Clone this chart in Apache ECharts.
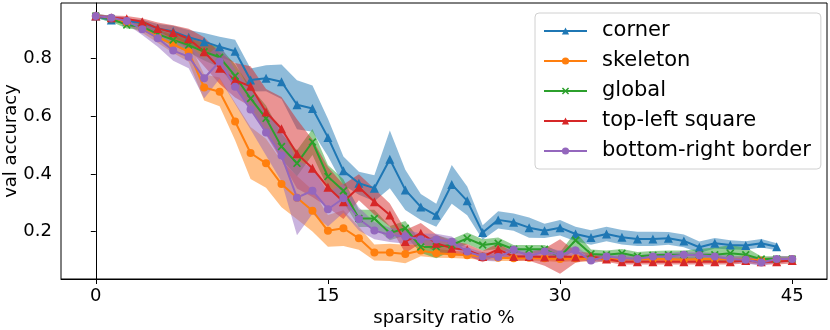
<!DOCTYPE html>
<html>
<head>
<meta charset="utf-8">
<script src="https://cdn.jsdelivr.net/npm/echarts@6/dist/echarts.min.js"></script>
<style>
  html, body { margin: 0; padding: 0; background: #fff; }
  #chart { width: 830px; height: 330px; }
</style>
</head>
<body>
<div id="chart"></div>
<script>
// sparsity ratio (%) at which each run was evaluated
const sparsity = Array.from({ length: 46 }, (_, i) => i)

const seriesNames = ["corner", "skeleton", "global", "top-left square", "bottom-right border"]
const colors = ["#1f77b4", "#ff7f0e", "#2ca02c", "#d62728", "#9467bd"]

// mean val accuracy
const cornerMean = [
  0.948, 0.934, 0.930, 0.925, 0.905, 0.894, 0.874, 0.859, 0.841, 0.826,
  0.726, 0.732, 0.720, 0.640, 0.627, 0.527, 0.411, 0.368, 0.351, 0.451,
  0.345, 0.286, 0.257, 0.364, 0.307, 0.197, 0.241, 0.233, 0.214, 0.203,
  0.214, 0.192, 0.180, 0.192, 0.181, 0.175, 0.175, 0.177, 0.168, 0.146,
  0.160, 0.154, 0.152, 0.160, 0.148
]
const skeletonMean = [
  0.948, 0.940, 0.925, 0.905, 0.875, 0.850, 0.824, 0.700, 0.685, 0.582,
  0.473, 0.437, 0.365, 0.318, 0.273, 0.203, 0.212, 0.177, 0.128, 0.128,
  0.123, 0.135, 0.125, 0.122, 0.118, 0.115, 0.110, 0.108, 0.110, 0.108,
  0.105, 0.108, 0.105, 0.105, 0.105, 0.103, 0.105, 0.105, 0.103, 0.105,
  0.105, 0.103, 0.105, 0.100, 0.103, 0.105
]
const globalMean = [
  0.948, 0.938, 0.917, 0.911, 0.885, 0.865, 0.847, 0.824, 0.805, 0.740,
  0.662, 0.593, 0.495, 0.437, 0.511, 0.391, 0.342, 0.246, 0.246, 0.195,
  0.212, 0.147, 0.148, 0.154, 0.177, 0.154, 0.160, 0.139, 0.139, 0.139,
  0.114, 0.170, 0.123, 0.120, 0.125, 0.115, 0.118, 0.120, 0.120, 0.120,
  0.120, 0.125, 0.120, 0.105, 0.105, 0.105
]
const topLeftMean = [
  0.948, 0.942, 0.938, 0.928, 0.905, 0.891, 0.869, 0.824, 0.767, 0.725,
  0.704, 0.615, 0.557, 0.470, 0.420, 0.354, 0.304, 0.354, 0.304, 0.258,
  0.166, 0.195, 0.160, 0.143, 0.137, 0.114, 0.139, 0.114, 0.114, 0.112,
  0.114, 0.112, 0.114, 0.105, 0.096, 0.096, 0.096, 0.096, 0.096, 0.096,
  0.096, 0.096, 0.100, 0.096, 0.096, 0.100
]
const bottomRightMean = [
  0.948, 0.942, 0.931, 0.902, 0.871, 0.828, 0.807, 0.732, 0.790, 0.703,
  0.624, 0.544, 0.464, 0.318, 0.342, 0.278, 0.316, 0.244, 0.204, 0.189,
  0.183, 0.174, 0.173, 0.165, 0.131, 0.114, 0.112, 0.137, 0.116, 0.131,
  0.120, 0.135, 0.100, 0.114, 0.108, 0.105, 0.114, 0.114, 0.120, 0.118,
  0.114, 0.105, 0.103, 0.093, 0.105, 0.105
]

// std over runs (half-width of the shaded band)
const cornerStd = [
  0.006, 0.008, 0.008, 0.010, 0.015, 0.020, 0.025, 0.030, 0.035, 0.040,
  0.040, 0.045, 0.060, 0.085, 0.080, 0.065, 0.050, 0.040, 0.045, 0.100,
  0.070, 0.045, 0.040, 0.067, 0.050, 0.025, 0.030, 0.030, 0.035, 0.025,
  0.027, 0.025, 0.025, 0.025, 0.025, 0.025, 0.025, 0.022, 0.022, 0.020,
  0.018, 0.016, 0.015, 0.015, 0.012
]
const skeletonStd = [
  0.005, 0.006, 0.010, 0.015, 0.020, 0.030, 0.035, 0.045, 0.050, 0.065,
  0.090, 0.085, 0.080, 0.075, 0.072, 0.055, 0.062, 0.040, 0.028, 0.030,
  0.032, 0.020, 0.015, 0.013, 0.012, 0.012, 0.012, 0.010, 0.010, 0.010,
  0.010, 0.010, 0.010, 0.010, 0.010, 0.010, 0.010, 0.010, 0.010, 0.010,
  0.010, 0.010, 0.010, 0.010, 0.010, 0.008
]
const globalStd = [
  0.008, 0.010, 0.012, 0.012, 0.015, 0.020, 0.025, 0.030, 0.035, 0.040,
  0.040, 0.045, 0.045, 0.045, 0.045, 0.040, 0.040, 0.030, 0.030, 0.025,
  0.025, 0.020, 0.040, 0.020, 0.020, 0.020, 0.020, 0.015, 0.015, 0.015,
  0.015, 0.030, 0.015, 0.015, 0.015, 0.015, 0.015, 0.015, 0.015, 0.020,
  0.025, 0.028, 0.025, 0.010, 0.010, 0.010
]
const topLeftStd = [
  0.006, 0.008, 0.010, 0.012, 0.020, 0.025, 0.035, 0.050, 0.055, 0.060,
  0.070, 0.080, 0.110, 0.120, 0.100, 0.070, 0.060, 0.045, 0.045, 0.040,
  0.040, 0.035, 0.030, 0.025, 0.020, 0.020, 0.020, 0.015, 0.015, 0.030,
  0.060, 0.020, 0.012, 0.010, 0.010, 0.010, 0.010, 0.010, 0.010, 0.010,
  0.010, 0.010, 0.010, 0.010, 0.010, 0.010
]
const bottomRightStd = [
  0.006, 0.008, 0.012, 0.020, 0.030, 0.035, 0.040, 0.070, 0.060, 0.060,
  0.070, 0.080, 0.090, 0.130, 0.080, 0.060, 0.050, 0.040, 0.030, 0.025,
  0.025, 0.020, 0.020, 0.018, 0.015, 0.015, 0.015, 0.015, 0.015, 0.015,
  0.015, 0.015, 0.012, 0.012, 0.012, 0.012, 0.012, 0.012, 0.012, 0.012,
  0.012, 0.012, 0.012, 0.012, 0.012, 0.010
]

const xTicks = [0, 15, 30, 45]
const yTicks = [0.2, 0.4, 0.6, 0.8]

const means = [cornerMean, skeletonMean, globalMean, topLeftMean, bottomRightMean]
const stds = [cornerStd, skeletonStd, globalStd, topLeftStd, bottomRightStd]
const symbols = [
  "triangle",
  "circle",
  "path://M0,1.5L1.5,0L5,3.5L8.5,0L10,1.5L6.5,5L10,8.5L8.5,10L5,6.5L1.5,10L0,8.5L3.5,5Z",
  "triangle",
  "circle",
]
const symbolSizes = [9, 8, 8, 9, 8]

const FONT = "DejaVu Sans"

// fill_between-like band: one polygon drawn through the axis scales
function bandSeries(k) {
  const mean = means[k]
  const std = stds[k]
  const rows = mean.map((m, i) => [sparsity[i], m - std[i], m + std[i]])
  return {
    type: "custom",
    z: 1,
    silent: true,
    clip: true,
    data: rows,
    encode: { x: 0, y: [1, 2] },
    renderItem(params, api) {
      if (params.dataIndex !== 0) return null
      const pts = []
      for (let i = 0; i < rows.length; i++) pts.push(api.coord([rows[i][0], rows[i][2]]))
      for (let i = rows.length - 1; i >= 0; i--) pts.push(api.coord([rows[i][0], rows[i][1]]))
      return {
        type: "polygon",
        shape: { points: pts },
        style: { fill: colors[k], opacity: 0.5 },
      }
    },
  }
}

function lineSeries(k) {
  return {
    name: seriesNames[k],
    type: "line",
    z: 2,
    data: means[k].map((m, i) => [sparsity[i], m]),
    symbol: symbols[k],
    symbolSize: symbolSizes[k],
    showSymbol: true,
    lineStyle: { width: 2, color: colors[k] },
    itemStyle: { color: colors[k] },
  }
}

const series = []
for (let k = 0; k < 5; k++) series.push(bandSeries(k))
for (let k = 0; k < 5; k++) series.push(lineSeries(k))

const chart = echarts.init(document.getElementById("chart"), null, { renderer: "canvas" })
chart.setOption({
  animation: false,
  textStyle: { fontFamily: FONT },
  grid: {
    left: 61, right: 3, top: 3, bottom: 51,
    containLabel: false,
    outerBoundsMode: "none",
    show: true, borderColor: "#000", borderWidth: 1,
  },
  legend: {
    data: seriesNames,
    orient: "vertical",
    left: 535,
    top: 13,
    backgroundColor: "#fff",
    borderColor: "#d0d0d0",
    borderWidth: 1,
    borderRadius: 4,
    padding: [6, 10, 6, 8],
    itemWidth: 43,
    itemHeight: 9,
    itemGap: 6,
    textStyle: { fontSize: 21, fontFamily: FONT, color: "#000", lineHeight: 24, padding: [0, 0, 0, 10] },
  },
  xAxis: {
    type: "value",
    min: -2.25,
    max: 47.25,
    name: "sparsity ratio %",
    nameLocation: "middle",
    nameGap: 30,
    nameMoveOverlap: false,
    nameTextStyle: { fontSize: 18, color: "#000", fontFamily: FONT },
    splitLine: { show: false },
    axisLine: { show: true, lineStyle: { color: "#000" } },
    axisTick: { show: true, length: 5, customValues: xTicks, lineStyle: { color: "#000" } },
    axisLabel: { customValues: xTicks, fontSize: 18, color: "#000", margin: 8, fontFamily: FONT },
  },
  yAxis: {
    type: "value",
    min: 0.036,
    max: 0.993,
    name: "val accuracy",
    nameLocation: "middle",
    nameGap: 41,
    nameMoveOverlap: false,
    nameTextStyle: { fontSize: 18, color: "#000", fontFamily: FONT },
    splitLine: { show: false },
    axisLine: { show: true, lineStyle: { color: "#000" } },
    axisTick: { show: true, length: 5, customValues: yTicks, lineStyle: { color: "#000" } },
    axisLabel: {
      customValues: yTicks, fontSize: 18, color: "#000", margin: 9, fontFamily: FONT,
      formatter: (v) => v.toFixed(1),
    },
  },
  series: series,
})
</script>
</body>
</html>
